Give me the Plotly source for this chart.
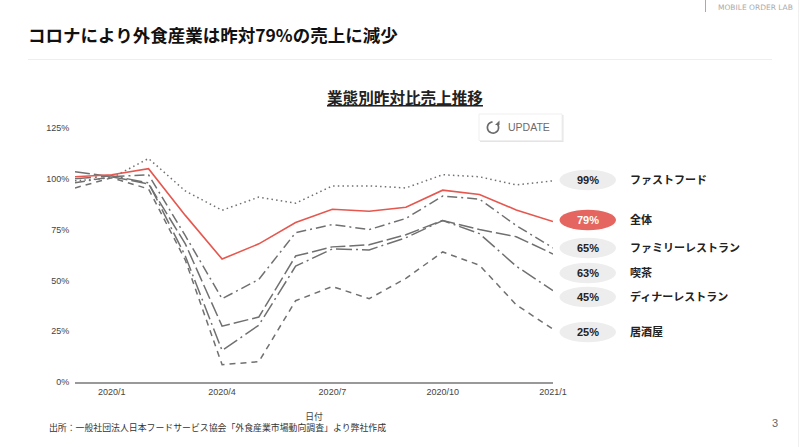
import numpy as np
import plotly.graph_objects as go

W, H = 800, 447
months = ["2019/12", "2020/1", "2020/2", "2020/3", "2020/4", "2020/5", "2020/6",
          "2020/7", "2020/8", "2020/9", "2020/10", "2020/11", "2020/12", "2021/1"]
tick_months = ["2020/1", "2020/4", "2020/7", "2020/10", "2021/1"]
y_ticks = [0, 25, 50, 75, 100, 125]

fast_food = [99, 100.5, 110, 94, 84.5, 91, 88, 96.5, 96.5, 95.5, 102, 101, 97, 99]
family = [98, 101, 102, 72, 41, 50.5, 73.5, 77.5, 75, 80.5, 91.5, 90, 77, 66]
cafe = [103.5, 101, 97.5, 68, 27.5, 32, 62, 66.5, 67.5, 72.5, 79.5, 75, 71.5, 63]
dinner = [100, 101.5, 98, 62, 15.5, 28, 57, 65.5, 65, 71, 79.5, 73, 57, 45]
izakaya = [95.5, 100.5, 95, 60, 8.5, 10, 40, 47, 41, 51, 64, 57.5, 38, 26]
overall = [101, 102, 105, 82, 60.5, 68, 78.5, 85, 84, 86, 94.4, 92.3, 84.7, 79]

series_names = ["ファストフード", "ファミリーレストラン", "喫茶", "ディナーレストラン", "居酒屋", "全体"]
series_vals = [fast_food, family, cafe, dinner, izakaya, overall]
series_dash = ["1.5px,3.2px", "10px,4px,2px,4px", "15px,4px", "16px,4px,2px,4px", "6px,5px", "solid"]

labels = ["ファストフード", "全体", "ファミリーレストラン", "喫茶", "ディナーレストラン", "居酒屋"]
pct_labels = ["99%", "79%", "65%", "63%", "45%", "25%"]
label_y = [180, 220, 248, 273, 297, 332]

CJK = "Noto Sans CJK JP"
LAT = "Liberation Sans"


def fx(x):
    return x / W


def fy(y):
    return 1 - y / H


fig = go.Figure()
for name, vals, dash in zip(series_names, series_vals, series_dash):
    red = name == "全体"
    fig.add_trace(go.Scatter(
        x=months, y=vals, mode="lines", name=name, showlegend=False,
        line=dict(color="#E5574F" if red else "#707070", width=1.6 if red else 1.5, dash=dash),
    ))

shapes, ann = [], []


def text(x, y, s, size=10, color="#222", family=CJK, anchor="left"):
    ann.append(dict(x=fx(x), y=fy(y), xref="paper", yref="paper", text=s, showarrow=False,
                    xanchor=anchor, yanchor="middle", align=anchor, borderpad=0,
                    font=dict(size=size, color=color, family=family)))


def line(x0, y0, x1, y1, color, width=1):
    shapes.append(dict(type="line", xref="paper", yref="paper", x0=fx(x0), x1=fx(x1),
                       y0=fy(y0), y1=fy(y1), line=dict(color=color, width=width)))


for lab, pct, y in zip(labels, pct_labels, label_y):
    red = lab == "全体"
    shapes.append(dict(type="circle", xref="paper", yref="paper", x0=fx(559.5), x1=fx(616),
                       y0=fy(y + 10.3), y1=fy(y - 10.3), line=dict(width=0),
                       fillcolor="#E56560" if red else "#EDEDED"))
    text(587.7, y, f"<b>{pct}</b>", size=11, color="#fff" if red else "#222", family=LAT, anchor="center")
    text(629, y - 1, f"<b>{lab}</b>", size=11, color="#222")

# page furniture
text(27, 35, "<b>コロナにより外食産業は昨対79%の売上に減少</b>", size=17.5, color="#111")
line(28, 59.5, 772, 59.5, "#EEEEEE")
text(405, 97, "<b><u>業態別昨対比売上推移</u></b>", size=15.6, color="#222", anchor="center")
text(48, 427, "出所：一般社団法人日本フードサービス協会「外食産業市場動向調査」より弊社作成", size=8.9, color="#333")
text(775, 423, "3", size=11, color="#666", family=LAT, anchor="center")
line(705.5, 0, 705.5, 12, "#AAAAAA")
line(798.5, 0, 798.5, 447, "#F0F0F0")
text(717, 7, "MOBILE ORDER LAB", size=7.5, color="#AAAAAA", family="DejaVu Sans")

# UPDATE button
shapes.append(dict(type="rect", xref="paper", yref="paper", x0=fx(480), x1=fx(563.5),
                   y0=fy(142), y1=fy(115), line=dict(width=0), fillcolor="#E4E4E4"))
shapes.append(dict(type="rect", xref="paper", yref="paper", x0=fx(479), x1=fx(562),
                   y0=fy(140.5), y1=fy(114), line=dict(color="#EFEFEF", width=1), fillcolor="#FFFFFF"))
text(529, 127.5, "UPDATE", size=10.5, color="#6b6b6b", family=LAT, anchor="center")
ang = np.radians(np.arange(-35, 270, 15))
cx, cy, r = 493, 127.5, 5.6
pts = [(fx(cx + r * np.cos(a)), fy(cy + r * np.sin(a))) for a in ang[::-1]]
path = "M" + " L".join(f"{a:.5f},{b:.5f}" for a, b in pts)
shapes.append(dict(type="path", xref="paper", yref="paper", path=path, line=dict(color="#6b6b6b", width=1.7)))
head = f"M{fx(499.5):.5f},{fy(120.5):.5f} L{fx(499.5):.5f},{fy(125):.5f} L{fx(495):.5f},{fy(125):.5f} Z"
shapes.append(dict(type="path", xref="paper", yref="paper", path=head, line=dict(width=0), fillcolor="#6b6b6b"))

fig.update_layout(
    width=W, height=H, autosize=False, margin=dict(l=0, r=0, t=0, b=0, pad=0, autoexpand=False),
    paper_bgcolor="#fff", plot_bgcolor="#fff", shapes=shapes, annotations=ann,
    font=dict(family=LAT, size=9, color="#555"),
    xaxis=dict(domain=[fx(75), fx(553)], type="category", categoryorder="array", categoryarray=months,
               range=[0, 13], tickmode="array", tickvals=tick_months, ticktext=tick_months, automargin=False,
               showgrid=False, zeroline=False, showline=True, linecolor="#999", linewidth=1.5,
               ticks="", tickfont=dict(size=9, color="#444", family=LAT),
               title=dict(text="日付", font=dict(size=8.8, color="#444", family=CJK), standoff=18)),
    yaxis=dict(domain=[fy(382), fy(128)], range=[0, 125], tickmode="array", tickvals=y_ticks, automargin=False,
               ticktext=[f"{v}%" for v in y_ticks], showgrid=False, zeroline=False, showline=False,
               ticks="outside", ticklen=3, tickcolor="rgba(0,0,0,0)", tickfont=dict(size=9, color="#444", family=LAT)),
)
fig.write_html("out.html", config=dict(displayModeBar=False),
               post_script="document.documentElement.style.overflow='hidden';document.body.style.margin='0';")
